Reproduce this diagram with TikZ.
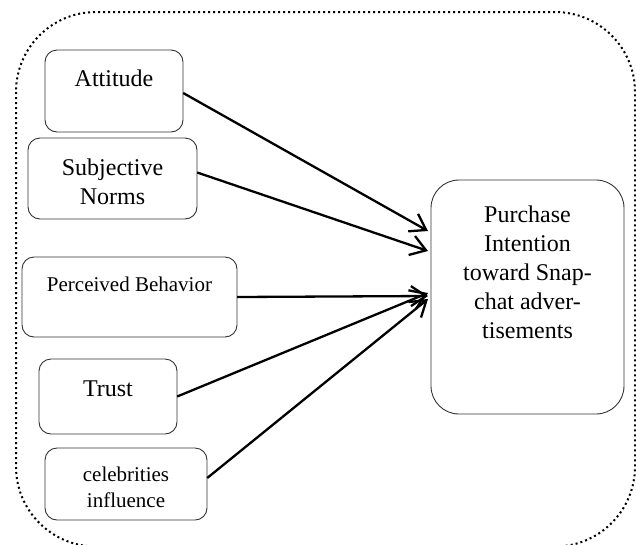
\documentclass[tikz,border=0pt]{standalone}
\usepackage{fontspec}
\setmainfont{Liberation Serif}
\usetikzlibrary{arrows.meta}
\begin{document}
\begin{tikzpicture}[x=1pt,y=-1pt,
  boxstyle/.style={draw=black!80, line width=0.9pt, rounded corners=12pt},
  bigfont/.style={font=\fontsize{24}{29}\selectfont},
  smallfont/.style={font=\fontsize{21}{26}\selectfont},
  txt/.style={inner sep=0pt, align=center},
  conn/.style={line width=2.3pt, -{Straight Barb[length=15pt,width=20pt,line width=2.3pt]}}
]
\useasboundingbox (0,0) rectangle (636,544);
% outer dotted frame
\draw[line width=2pt, dash pattern=on 2pt off 3pt, rounded corners=80pt] (16,12) rectangle (635,546.5);

% boxes
\draw[boxstyle] (45,50) rectangle (183,132);
\node[inner sep=0pt, minimum width=138pt, minimum height=82pt] (att) at (114,91) {};
\node[txt, bigfont, anchor=base] (attT) at (114,86) {Attitude};

\draw[boxstyle] (28,138) rectangle (197,219);
\node[inner sep=0pt, minimum width=169pt, minimum height=81pt] (sub) at (112.5,178.5) {};
\node[txt, bigfont, anchor=north] (subT) at (112.5,158.6) {Subjective\\Norms};

\draw[boxstyle] (22,257) rectangle (237,337);
\node[inner sep=0pt, minimum width=215pt, minimum height=80pt] (per) at (129.5,297) {};
\node[txt, smallfont, anchor=base] (perT) at (129.5,291) {Perceived Behavior};

\draw[boxstyle] (39,359) rectangle (177,434);
\node[inner sep=0pt, minimum width=138pt, minimum height=75pt] (tru) at (108,396.5) {};
\node[txt, bigfont, anchor=base] (truT) at (108,396) {Trust};

\draw[boxstyle] (45,448) rectangle (207,520);
\node[inner sep=0pt, minimum width=162pt, minimum height=72pt] (cel) at (126,484) {};
\node[txt, smallfont, anchor=north] (celT) at (126,466.7) {celebrities\\influence};

\draw[boxstyle, rounded corners=28pt] (431,180) rectangle (624,414);
\node[inner sep=0pt, minimum width=193pt, minimum height=234pt] (pur) at (527.5,297) {};
\node[txt, bigfont, anchor=north] (purT) at (527.5,205.6) {Purchase\\Intention\\toward Snap-\\chat adver-\\tisements};

% arrow tips
\coordinate (t1) at (428,231);
\coordinate (t2) at (428,251);
\coordinate (t3) at (428,296);
\coordinate (t4) at (428,293);
\coordinate (t5) at (428,299);

\draw[conn] (att.east) ++(0,2) -- (t1);
\draw[conn] (sub.east) ++(0,-6) -- (t2);
\draw[conn] (per.east) -- (t3);
\draw[conn] (tru.east) -- (t4);
\draw[conn] (cel.east) ++(0,-6) -- (t5);
\end{tikzpicture}
\end{document}
